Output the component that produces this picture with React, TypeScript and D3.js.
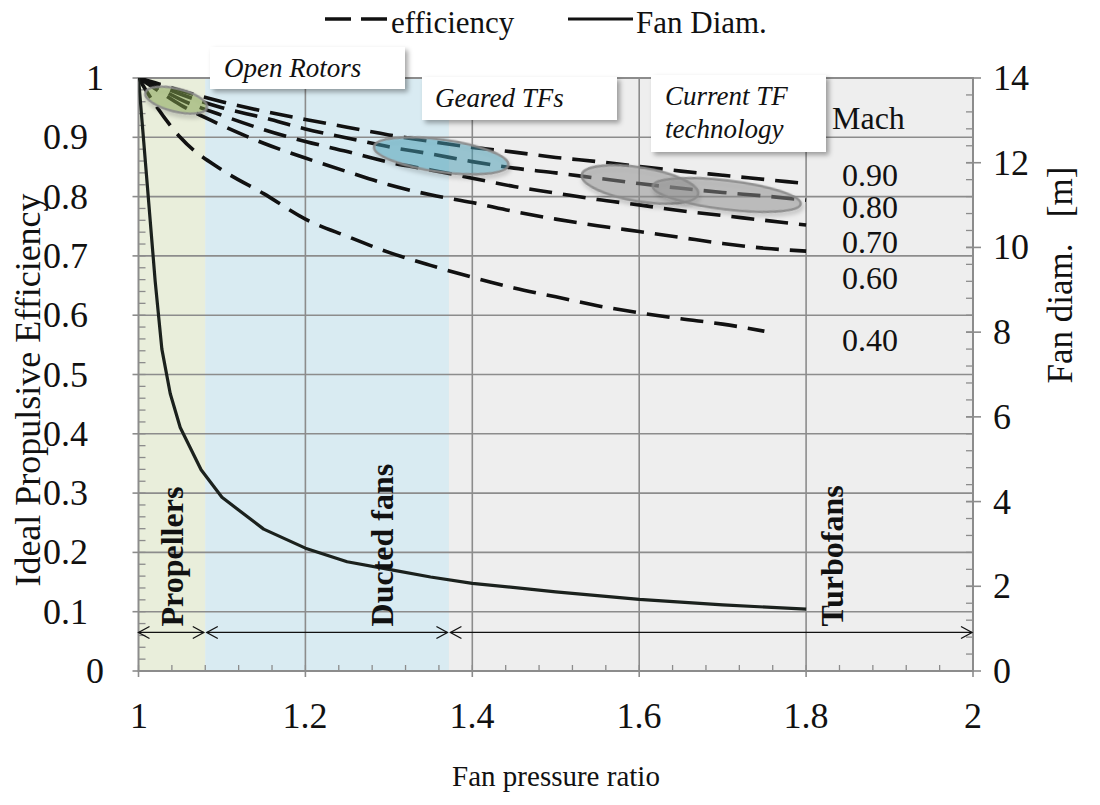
import React from 'react';
import * as d3 from 'd3';

// Fan pressure ratio sampling for the efficiency curves
const fprGrid = [1.0, 1.02, 1.05, 1.1, 1.15, 1.2, 1.25, 1.3, 1.35, 1.4, 1.45, 1.5, 1.55, 1.6, 1.65, 1.7, 1.75, 1.8];

// Ideal propulsive efficiency per flight Mach number
const effMach090 = [1.0, 0.992, 0.979, 0.96, 0.944, 0.93, 0.917, 0.904, 0.893, 0.883, 0.875, 0.866, 0.859, 0.851, 0.843, 0.836, 0.829, 0.822];
const effMach080 = [1.0, 0.99, 0.973, 0.95, 0.933, 0.914, 0.899, 0.884, 0.872, 0.859, 0.848, 0.84, 0.831, 0.822, 0.814, 0.807, 0.801, 0.794];
const effMach070 = [1.0, 0.986, 0.964, 0.937, 0.913, 0.893, 0.876, 0.858, 0.845, 0.831, 0.817, 0.806, 0.795, 0.786, 0.776, 0.768, 0.76, 0.752];
const effMach060 = [1.0, 0.982, 0.955, 0.92, 0.89, 0.865, 0.842, 0.82, 0.803, 0.79, 0.775, 0.762, 0.751, 0.741, 0.731, 0.721, 0.713, 0.708];
const effMach040 = [1.0, 0.955, 0.9, 0.845, 0.805, 0.762, 0.733, 0.706, 0.684, 0.664, 0.646, 0.631, 0.616, 0.604, 0.594, 0.585, 0.573];

const machSeries = [effMach090, effMach080, effMach070, effMach060, effMach040];
const machLabels = ['0.90', '0.80', '0.70', '0.60', '0.40'];

// Fan diameter [m] vs fan pressure ratio
const diamFpr = [1.0, 1.02, 1.028, 1.038, 1.05, 1.075, 1.1, 1.15, 1.2, 1.25, 1.3, 1.35, 1.4, 1.5, 1.6, 1.7, 1.8];
const diamMeters = [14, 9.2, 7.6, 6.55, 5.75, 4.75, 4.1, 3.35, 2.9, 2.58, 2.4, 2.22, 2.07, 1.87, 1.69, 1.56, 1.46];

// Axis ticks
const xTickValues = [1, 1.2, 1.4, 1.6, 1.8, 2];
const xTickLabels = ['1', '1.2', '1.4', '1.6', '1.8', '2'];
const yLeftTickValues = [0, 0.1, 0.2, 0.3, 0.4, 0.5, 0.6, 0.7, 0.8, 0.9, 1];
const yLeftTickLabels = ['0', '0.1', '0.2', '0.3', '0.4', '0.5', '0.6', '0.7', '0.8', '0.9', '1'];
const yRightTickValues = [0, 2, 4, 6, 8, 10, 12, 14];

// Technology bands along the fan pressure ratio axis
const bandNames = ['Propellers', 'Ducted fans', 'Turbofans'];
const bandStart = [1.0, 1.08, 1.372];
const bandEnd = [1.08, 1.372, 2.0];
const bandFill = ['#e9eedb', '#d9ebf2', '#eeeeee'];
const bandLabelFpr = [1.0535, 1.305, 1.844];

// Highlight ellipses: centre (fpr, efficiency), half-axes in fpr / efficiency units, tilt in degrees
const blobFpr = [1.0451, 1.3627, 1.6009, 1.7049];
const blobEff = [0.9626, 0.8688, 0.8204, 0.8027];
const blobHalfLen = [0.038, 0.0812, 0.0707, 0.0893];
const blobHalfThick = [0.0195, 0.0275, 0.0285, 0.0245];
const blobTilt = [13.7, 7.8, 9.3, 6.9];
const blobFill = ['#88a84d', '#4aa3bd', '#949494', '#949494'];

const SERIF = "'Liberation Serif', 'Times New Roman', serif";

function T(props: any) {
  return <text fontFamily={SERIF} fill="#111" {...props} />;
}

export default function App() {
  const W = 1100, H = 805;
  const left = 138.5, right = 973, top = 78, bottom = 671;

  const x = d3.scaleLinear().domain([1, 2]).range([left, right]);
  const yL = d3.scaleLinear().domain([0, 1]).range([bottom, top]);
  const yR = d3.scaleLinear().domain([0, 14]).range([bottom, top]);

  const effLine = d3.line<[number, number]>()
    .x((d) => x(d[0]))
    .y((d) => yL(d[1]))
    .curve(d3.curveMonotoneX);

  const diamLine = d3.line<[number, number]>()
    .x((d) => x(d[0]))
    .y((d) => yR(d[1]));

  const minorBottom = d3.range(1, 2.0001, 0.04);
  const minorLeft = d3.range(0, 1.0001, 0.02);
  const minorRight = d3.range(0, 14.0001, 0.4);

  const arrowY = yL(0.065);
  const pxPerEff = yL(0) - yL(1);
  const pxPerFpr = x(2) - x(1);

  return (
    <div style={{ position: 'absolute', left: 0, top: 0 }}>
      <svg width={W} height={H} viewBox={`0 0 ${W} ${H}`} fontFamily={SERIF} style={{ display: 'block', background: '#ffffff' }}>
        <defs>
          <filter id="boxShadow" x="-20%" y="-30%" width="150%" height="170%">
            <feDropShadow dx="3" dy="3" stdDeviation="2.5" floodColor="#000" floodOpacity="0.35" />
          </filter>
          <filter id="blobShadow" x="-20%" y="-50%" width="140%" height="200%">
            <feDropShadow dx="2" dy="3" stdDeviation="2" floodColor="#000" floodOpacity="0.25" />
          </filter>
          <clipPath id="plotClip">
            <rect x={left} y={top} width={right - left} height={bottom - top} />
          </clipPath>
        </defs>

        {/* plot background bands */}
        <rect x={left} y={top} width={right - left} height={bottom - top} fill="#eeeeee" />
        {bandStart.map((s, i) => (
          <rect key={`band${i}`} x={x(s)} y={top} width={x(bandEnd[i]) - x(s)} height={bottom - top} fill={bandFill[i]} />
        ))}

        {/* grid */}
        {yLeftTickValues.slice(1, -1).map((v) => (
          <line key={`gy${v}`} x1={left} x2={right} y1={yL(v)} y2={yL(v)} stroke="#8c8c8c" strokeWidth={1.6} />
        ))}
        {xTickValues.slice(1, -1).map((v) => (
          <line key={`gx${v}`} x1={x(v)} x2={x(v)} y1={top} y2={bottom} stroke="#8c8c8c" strokeWidth={1.6} />
        ))}

        {/* ticks */}
        {minorLeft.map((v, i) => (
          <line key={`ml${i}`} x1={left} x2={left + 7} y1={yL(v)} y2={yL(v)} stroke="#8c8c8c" strokeWidth={1.3} />
        ))}
        {yLeftTickValues.map((v) => (
          <line key={`Ml${v}`} x1={left - 6} x2={left} y1={yL(v)} y2={yL(v)} stroke="#8c8c8c" strokeWidth={1.6} />
        ))}
        {minorBottom.map((v, i) => (
          <line key={`mb${i}`} x1={x(v)} x2={x(v)} y1={bottom} y2={bottom - 6} stroke="#8c8c8c" strokeWidth={1.3} />
        ))}
        {xTickValues.map((v) => (
          <line key={`Mb${v}`} x1={x(v)} x2={x(v)} y1={bottom} y2={bottom + 6} stroke="#8c8c8c" strokeWidth={1.6} />
        ))}
        {minorRight.map((v, i) => (
          <line key={`mr${i}`} x1={right - 7} x2={right} y1={yR(v)} y2={yR(v)} stroke="#8c8c8c" strokeWidth={1.3} />
        ))}
        {yRightTickValues.map((v) => (
          <line key={`Mr${v}`} x1={right - 7} x2={right + 8} y1={yR(v)} y2={yR(v)} stroke="#8c8c8c" strokeWidth={1.6} />
        ))}

        {/* plot frame */}
        <rect x={left} y={top} width={right - left} height={bottom - top} fill="none" stroke="#8c8c8c" strokeWidth={2} />

        <g clipPath="url(#plotClip)">
          {/* efficiency curves */}
          {machSeries.map((series, i) => (
            <path
              key={`eff${i}`}
              d={effLine(series.map((v, j) => [fprGrid[j], v] as [number, number])) || ''}
              fill="none"
              stroke="#111111"
              strokeWidth={3.6}
              strokeDasharray="23 11"
            />
          ))}

          {/* fan diameter */}
          <path
            d={diamLine(diamMeters.map((v, j) => [diamFpr[j], v] as [number, number])) || ''}
            fill="none"
            stroke="#1b211d"
            strokeWidth={3.2}
            strokeLinejoin="round"
          />
        </g>

        {/* highlight ellipses */}
        {blobFpr.map((f, i) => {
          const cx = x(f);
          const cy = yL(blobEff[i]);
          return (
            <g key={`blob${i}`} transform={`translate(${cx},${cy}) rotate(${blobTilt[i]})`} filter="url(#blobShadow)">
              <ellipse
                rx={blobHalfLen[i] * pxPerFpr}
                ry={blobHalfThick[i] * pxPerEff}
                fill={blobFill[i]}
                fillOpacity={0.45}
                stroke="#8a8a8a"
                strokeOpacity={0.9}
                strokeWidth={2.5}
              />
            </g>
          );
        })}

        {/* band arrows */}
        {bandStart.map((s, i) => {
          const x1 = x(s) + (i === 0 ? 0 : 1.5);
          const x2 = x(bandEnd[i]) - (i === bandStart.length - 1 ? 1 : 1.5);
          return (
            <g key={`arr${i}`} stroke="#111" strokeWidth={1.3} fill="none">
              <line x1={x1} x2={x2} y1={arrowY} y2={arrowY} />
              <path d={`M${x1 + 11},${arrowY - 6} L${x1},${arrowY} L${x1 + 11},${arrowY + 6}`} />
              <path d={`M${x2 - 11},${arrowY - 6} L${x2},${arrowY} L${x2 - 11},${arrowY + 6}`} />
            </g>
          );
        })}

        {/* band names */}
        {bandNames.map((name, i) => (
          <T
            key={`bn${i}`}
            transform={`translate(${x(bandLabelFpr[i])},${arrowY - 6}) rotate(-90)`}
            fontSize={32}
            fontWeight="bold"
          >
            {name}
          </T>
        ))}

        {/* annotation boxes */}
        <g filter="url(#boxShadow)">
          <rect x={210} y={47} width={195} height={42} fill="#ffffff" />
          <rect x={422} y={77} width={195} height={43} fill="#ffffff" />
          <rect x={651} y={75} width={175} height={77} fill="#ffffff" />
        </g>
        <T x={224} y={77} fontSize={27} fontStyle="italic">Open Rotors</T>
        <T x={435} y={107} fontSize={27} fontStyle="italic">Geared TFs</T>
        <T x={665} y={105} fontSize={27} fontStyle="italic">Current TF</T>
        <T x={665} y={138} fontSize={27} fontStyle="italic">technology</T>

        {/* Mach labels */}
        <T x={832} y={129} fontSize={32}>Mach</T>
        <T x={842} y={186} fontSize={32}>{machLabels[0]}</T>
        <T x={842} y={218} fontSize={32}>{machLabels[1]}</T>
        <T x={842} y={253} fontSize={32}>{machLabels[2]}</T>
        <T x={842} y={289} fontSize={32}>{machLabels[3]}</T>
        <T x={842} y={351} fontSize={32}>{machLabels[4]}</T>

        {/* tick labels */}
        {xTickValues.map((v, i) => (
          <T key={`xl${v}`} x={Math.round(x(v))} y={bottom + 57} textAnchor="middle" fontSize={36}>{xTickLabels[i]}</T>
        ))}
        {yLeftTickValues.map((v, i) => {
          const lbl = yLeftTickLabels[i];
          const endX = lbl.includes('.') ? 88 : 104;
          return (
            <T key={`yl${v}`} x={endX} y={Math.round(yL(v) + 12)} textAnchor="end" fontSize={36}>{lbl}</T>
          );
        })}
        {yRightTickValues.map((v) => (
          <T key={`yr${v}`} x={993} y={Math.round(yR(v) + 12)} fontSize={36}>{String(v)}</T>
        ))}

        {/* axis titles */}
        <T x={556} y={786} textAnchor="middle" fontSize={29}>Fan pressure ratio</T>
        <T transform="translate(40,390) rotate(-90)" textAnchor="middle" fontSize={36}>Ideal Propulsive Efficiency</T>
        <T transform="translate(1072,275) rotate(-90)" textAnchor="middle" fontSize={35} style={{ whiteSpace: 'pre' }}>{'Fan diam.   [m]'}</T>

        {/* legend */}
        <line x1={325} x2={388} y1={19} y2={19} stroke="#111" strokeWidth={3.6} strokeDasharray="26 10" />
        <T x={391} y={33} fontSize={31}>efficiency</T>
        <line x1={568} x2={633} y1={19} y2={19} stroke="#111" strokeWidth={3.2} />
        <T x={636} y={33} fontSize={31}>Fan Diam.</T>
      </svg>
    </div>
  );
}
